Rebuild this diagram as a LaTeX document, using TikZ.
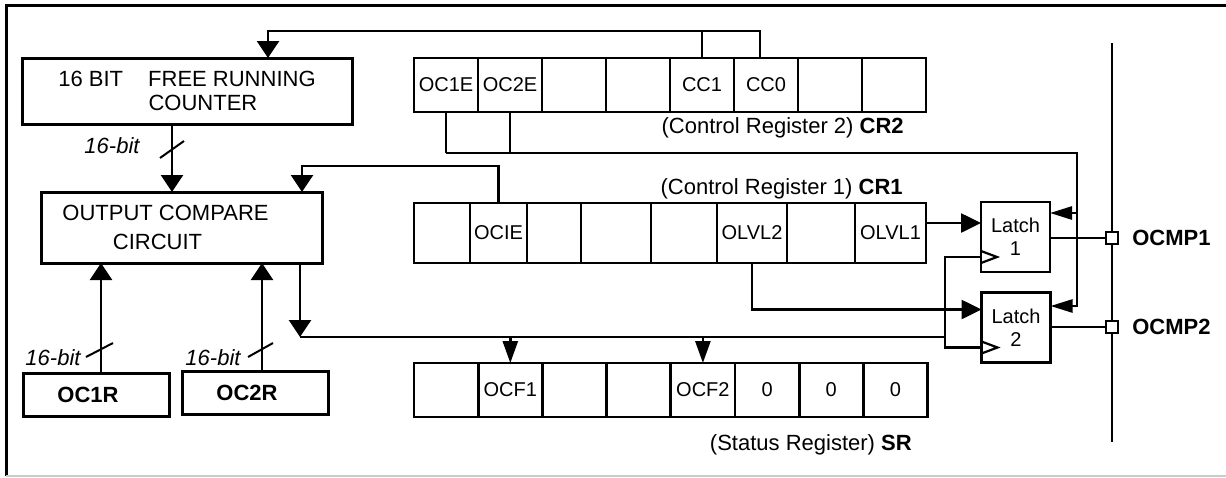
\documentclass[tikz,border=0pt]{standalone}
\usepackage{fontspec}
\setmainfont{Liberation Sans}
\usetikzlibrary{arrows.meta,chains,positioning}

\begin{document}
\begin{tikzpicture}[x=0.5pt,y=-0.5pt]
\tikzstyle{every path}=[line width=1.3pt]
\tikzstyle{blockbox}=[draw,line width=1.5pt,inner sep=0pt,outer sep=0pt,align=center,font=\fontsize{11}{12}\selectfont]
\tikzstyle{regcell}=[draw,line width=1.4pt,inner sep=0pt,outer sep=0pt,anchor=west,font=\fontsize{10}{12}\selectfont]
\tikzstyle{latchbox}=[draw,line width=1.4pt,inner sep=0pt,outer sep=0pt,minimum width=34.5pt,minimum height=35pt,align=center,font=\fontsize{10}{11.5}\selectfont]
\tikzstyle{reglabel}=[anchor=east,inner sep=0pt,font=\fontsize{11}{12}\selectfont]
\tikzstyle{bitlabel}=[inner sep=0pt,font=\fontsize{11}{12}\selectfont\itshape]
\tikzstyle{pinbox}=[draw,fill=white,line width=1pt,minimum size=6pt,inner sep=0pt,outer sep=0pt]
\tikzstyle{pinlabel}=[anchor=west,inner sep=0pt,font=\fontsize{11}{12}\selectfont\bfseries]
\tikzstyle{thinline}=[line width=0.6pt]
\tikzstyle{busslash}=[line width=1pt]
\tikzstyle{bigarrow}=[-{Triangle[length=8.5pt,width=11pt]}]
\tikzstyle{latcharrow}=[-{Triangle[length=10pt,width=9.5pt]}]
\tikzstyle{ocfarrow}=[-{Triangle[length=11pt,width=7.5pt]}]
\tikzstyle{fbarrow}=[-{Triangle[length=11pt,width=6.5pt]}]

\useasboundingbox (0,0) rectangle (1226,477);

%% Frame
\draw[line width=1.5pt] (1226,5) -- (6,5) -- (6,476);
\draw[line width=0.6pt,black!20] (6,476) -- (1226,476);

%% Blocks on the left
\node[blockbox,minimum width=165pt,minimum height=33pt] (counter) at (187,91)
	{16 BIT\hspace{12.5pt}FREE RUNNING\\\hspace*{16pt}COUNTER};
\node[blockbox,minimum width=140.5pt,minimum height=35.5pt,
      font=\fontsize{11}{14.5}\selectfont] (occ) at (181.5,227.5)
	{OUTPUT COMPARE\hspace*{16pt}\\CIRCUIT\hspace*{24pt}};
\node[blockbox,minimum width=73pt,minimum height=21.5pt,
      font=\fontsize{11}{12}\selectfont\bfseries] (oc1r) at (96,394.5) {OC1R\hspace*{8pt}};
\node[blockbox,minimum width=73pt,minimum height=21.5pt,
      font=\fontsize{11}{12}\selectfont\bfseries] (oc2r) at (255,393) {OC2R\hspace*{8pt}};

%% Control Register 2
\begin{scope}[start chain=cr2 going right,node distance=0pt,shift={(414,85)}]
\foreach \t in {OC1E,OC2E,{},{},CC1,CC0,{},{}}
	\node [on chain,regcell,minimum width=32pt,minimum height=27pt] {\t};
\end{scope}
\node[reglabel] (cr2label) at (905,128) {(Control Register 2) \textbf{CR2}};

%% Control Register 1
\begin{scope}[start chain=cr1 going right,node distance=0pt,shift={(414,233)}]
\foreach \w/\t in {28/{},28.5/OCIE,27/{},35/{},33/{},35/OLVL2,34/{},35.5/OLVL1}
	\node [on chain,regcell,minimum width=\w pt,minimum height=30pt] {\t};
\end{scope}
\node[reglabel] (cr1label) at (904,189) {(Control Register 1) \textbf{CR1}};

%% Status Register
\begin{scope}[start chain=sr going right,node distance=0pt,shift={(414,390)}]
\foreach \t in {{},OCF1,{},{},OCF2,0,0,0}
	\node [on chain,regcell,minimum width=32.1pt,minimum height=27pt] {\t};
\end{scope}
\node[reglabel] (srlabel) at (913,445) {(Status Register) \textbf{SR}};

%% Latches
\node[latchbox] (latch1) at (1015.5,237) {Latch\\1};
\node[latchbox] (latch2) at (1016,327.5) {Latch\\2};

%% Output pins
\coordinate (bustop) at (1112,43);
\coordinate (busbot) at (1112,442);
\draw[line width=1pt] (bustop) -- (busbot);
\node[pinbox] (ocmp1) at (1112,238) {};
\node[pinbox] (ocmp2) at (1112,327) {};
\node[pinlabel] (ocmp1label) at ([xshift=6.5pt]ocmp1.east) {OCMP1};
\node[pinlabel] (ocmp2label) at ([xshift=6.5pt]ocmp2.east) {OCMP2};
\draw[line width=1pt] (latch1.east |- ocmp1) -- (ocmp1);
\draw[line width=1pt] (latch2.east |- ocmp2) -- (ocmp2);

%% CC1/CC0 to counter
\coordinate (ctop) at (268,31);
\draw[bigarrow] ([xshift=-3pt]cr2-6.north) |- (ctop) -- (ctop |- counter.north);
\draw[thinline] (cr2-5.north) -- (cr2-5.north |- ctop);

%% Counter to compare circuit
\draw[bigarrow] ([xshift=-7.5pt]counter.south) -- ([xshift=-7.5pt]counter.south |- occ.north);
\draw[busslash] (160,158) -- (184,141);
\node[bitlabel] (bits0) at (112,146) {16-bit};

%% OCIE to compare circuit
\coordinate (ocie) at (302,166);
\draw[bigarrow] (cr1-2.north) |- (ocie) -- (ocie |- occ.north);

%% OC1E/OC2E to latches
\coordinate (oce) at (1077,153);
\coordinate (l1f) at ([yshift=12pt]latch1.east);
\coordinate (l2f) at ([yshift=10.75pt]latch2.east);
\draw[thinline] (cr2-1.south) -- (cr2-1.south |- oce);
\draw[thinline] (cr2-2.south) -- (cr2-2.south |- oce);
\draw[fbarrow] (cr2-1.south |- oce) -- (oce) |- (l2f);
\draw[fbarrow] (oce |- l1f) -- (l1f);

%% OLVL1/OLVL2 to latches
\coordinate (l1d) at ([yshift=7pt]latch1.west);
\coordinate (l2d) at ([yshift=9pt]latch2.west);
\draw[latcharrow] (cr1-8.east |- l1d) -- (l1d);
\draw[latcharrow] (cr1-6.south) |- (l2d);

%% Compare output bus
\coordinate (bus) at (300,337);
\coordinate (clkx) at (945,337);
\coordinate (l1c) at ([yshift=-10pt]latch1.west);
\coordinate (l2c) at ([yshift=-10pt]latch2.west);
\draw[bigarrow] (occ.south -| bus) -- (bus);
\draw (bus) -- (clkx);
\draw (l1c) -| (l2c -| clkx) -- (l2c);
\draw[line width=1.1pt] ([yshift=3pt]l1c) -- ++(16,6) -- ++(-16,6);
\draw[line width=1.1pt] ([yshift=3pt]l2c) -- ++(16,6) -- ++(-16,6);
\draw[ocfarrow] (bus -| sr-2.north) -- (sr-2.north);
\draw[ocfarrow] (bus -| sr-5.north) -- (sr-5.north);

%% OC1R/OC2R to compare circuit
\draw[bigarrow] ([xshift=2.5pt]oc1r.north) -- ([xshift=2.5pt]oc1r.north |- occ.south);
\draw[busslash] (86,357) -- (113,343);
\node[bitlabel] (bits1) at (53,358) {16-bit};
\draw[bigarrow] ([xshift=3.5pt]oc2r.north) -- ([xshift=3.5pt]oc2r.north |- occ.south);
\draw[busslash] (248,357) -- (273,343);
\node[bitlabel] (bits2) at (213,358) {16-bit};

\end{tikzpicture}
\end{document}
